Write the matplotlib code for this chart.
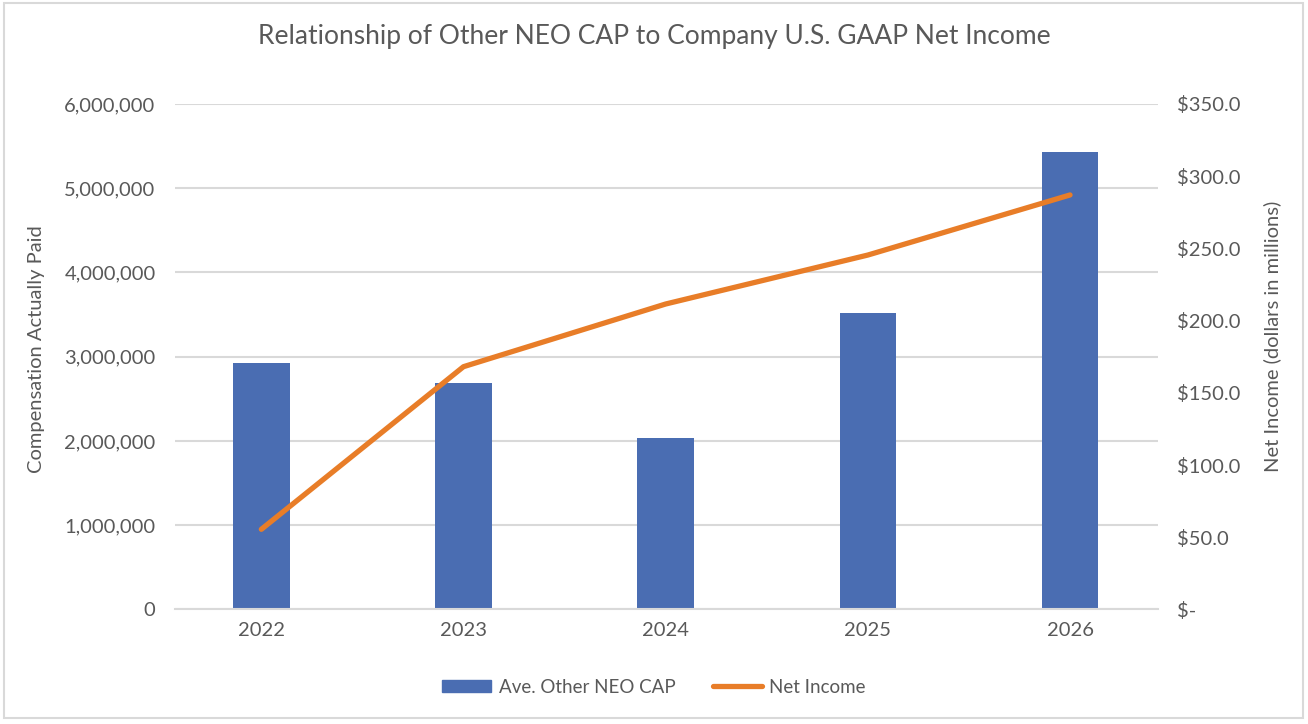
import matplotlib
matplotlib.use("Agg")
import matplotlib.pyplot as plt
from matplotlib.patches import Rectangle
from matplotlib.lines import Line2D

years = ["2022", "2023", "2024", "2025", "2026"]
neo_cap = [2922000, 2692000, 2036000, 3516000, 5434000]
net_income = [55.5, 168.1, 211.5, 245.4, 287.0]
left_ticks = [0, 1000000, 2000000, 3000000, 4000000, 5000000, 6000000]
right_ticks = [0, 50, 100, 150, 200, 250, 300, 350]

plt.rcParams['font.family'] = ['Lato', 'DejaVu Sans']
TXT = '#595959'
BAR = '#4A6DB2'
LINE = '#E87D28'
GRID = '#D9D9D9'

fig = plt.figure(figsize=(13.08, 7.24), dpi=100)
fig.patches.append(Rectangle((0.003, 0.008), 0.993, 0.988, transform=fig.transFigure,
                             fill=False, edgecolor='#D9D9D9', linewidth=1.5))

ax = fig.add_axes([0.1338, 0.1582, 0.7515, 0.6982])
x = list(range(len(years)))
ax.bar(x, neo_cap, width=0.28, color=BAR, zorder=2)
ax.set_ylim(0, 6000000)
ax.set_yticks(left_ticks)
ax.set_yticklabels([f"{v:,}" for v in left_ticks])
ax.set_xlim(-0.427, 4.435)
ax.set_xticks(x)
ax.set_xticklabels(years)
ax.grid(axis='y', color=GRID, linewidth=1.5, zorder=0)
ax.set_axisbelow(True)
for s in ax.spines.values():
    s.set_visible(False)
ax.spines['bottom'].set_visible(True)
ax.spines['bottom'].set_color(GRID)
ax.spines['bottom'].set_linewidth(1.5)
ax.tick_params(axis='both', length=0, labelsize=14.5, colors=TXT)
ax.tick_params(axis='y', pad=14)
ax.tick_params(axis='x', pad=9)
ax.set_ylabel("Compensation Actually Paid", fontsize=14.5, color=TXT)
ax.yaxis.set_label_coords(-0.132, 0.515)

ax2 = ax.twinx()
ax2.plot(x, net_income, color=LINE, linewidth=3.8, solid_capstyle='round', zorder=3)
ax2.set_ylim(0, 350)
ax2.set_yticks(right_ticks)
ax2.set_yticklabels(["$-" if v == 0 else f"${v:.1f}" for v in right_ticks])
for s in ax2.spines.values():
    s.set_visible(False)
ax2.tick_params(axis='y', length=0, labelsize=14.5, colors=TXT, pad=14)
ax2.set_ylabel("Net Income (dollars in millions)", fontsize=14.5, color=TXT)
ax2.yaxis.set_label_coords(1.107, 0.541)

fig.text(0.5, 0.949, "Relationship of Other NEO CAP to Company U.S. GAAP Net Income",
         ha='center', va='center', fontsize=19, color=TXT)

handles = [Rectangle((0, 0), 1, 1, color=BAR),
           Line2D([0], [0], color=LINE, linewidth=3.8, solid_capstyle='round')]
fig.legend(handles, ["Ave. Other NEO CAP", "Net Income"], loc='center',
           bbox_to_anchor=(0.5, 0.051), ncol=2, frameon=False, fontsize=13.5,
           labelcolor=TXT, handlelength=2.6, handleheight=0.6, columnspacing=2.0,
           handletextpad=0.4)

fig.savefig("out.png", dpi=100)
